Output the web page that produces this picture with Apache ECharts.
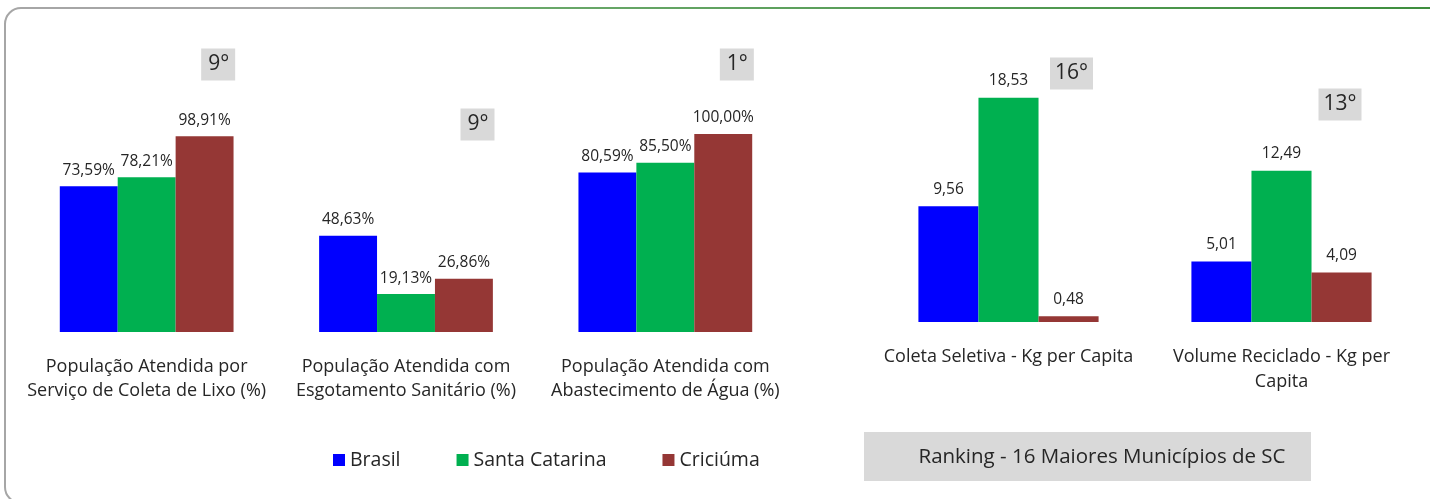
<!DOCTYPE html>
<html>
<head>
<meta charset="utf-8">
<script src="https://cdn.jsdelivr.net/npm/echarts@6/dist/echarts.min.js"></script>
<style>
html,body{margin:0;padding:0;background:#fff;}
#c{width:1430px;height:499px;}
</style>
</head>
<body>
<div id="c"></div>
<script>
const seriesNames = ['Brasil', 'Santa Catarina', 'Criciúma'];
const colors = ['#0000ff', '#00b050', '#953735'];

const catsLeft = ['População Atendida por\nServiço de Coleta de Lixo (%)', 'População Atendida com\nEsgotamento Sanitário (%)', 'População Atendida com\nAbastecimento de Água (%)'];
const brasilLeft = [73.59, 48.63, 80.59];
const scLeft = [78.21, 19.13, 85.50];
const cricLeft = [98.91, 26.86, 100.00];
const rankLeft = ['9°', '9°', '1°'];

const catsRight = ['Coleta Seletiva - Kg per Capita', 'Volume Reciclado - Kg per\nCapita'];
const brasilRight = [9.56, 5.01];
const scRight = [18.53, 12.49];
const cricRight = [0.48, 4.09];
const rankRight = ['16°', '13°'];

const rankingTitle = 'Ranking - 16 Maiores Municípios de SC';

const FONT = '"Open Sans", "Noto Sans", sans-serif';
const TXT = '#262626';

const chart = echarts.init(document.getElementById('c'), null, {renderer: 'canvas'});

function fmtPct(v){ return v.toFixed(2).replace('.', ',') + '%'; }
function fmtNum(v){ return v.toFixed(2).replace('.', ','); }

const leftData = [brasilLeft, scLeft, cricLeft];
const rightData = [brasilRight, scRight, cricRight];

const series = [];
seriesNames.forEach((n, i) => {
  series.push({
    name: n, type: 'bar', xAxisIndex: 0, yAxisIndex: 0,
    data: leftData[i], barGap: '0%', barCategoryGap: '33%',
    itemStyle: {color: colors[i]},
    label: {show: true, position: 'top', distance: 8, color: TXT, fontSize: 15.5, fontFamily: FONT,
      formatter: p => fmtPct(p.value)},
    emphasis: {disabled: true}, animation: false
  });
});
seriesNames.forEach((n, i) => {
  series.push({
    name: n, type: 'bar', xAxisIndex: 1, yAxisIndex: 1,
    data: rightData[i], barGap: '0%', barCategoryGap: '34%',
    itemStyle: {color: colors[i]},
    label: {show: true, position: 'top', distance: 9, color: TXT, fontSize: 15.5, fontFamily: FONT,
      formatter: p => fmtNum(p.value)},
    emphasis: {disabled: true}, animation: false
  });
});

const option = {
  animation: false,
  textStyle: {fontFamily: FONT},
  grid: [
    {left: 17, right: 1430 - 795, top: 134, bottom: 499 - 332},
    {left: 872, right: 1430 - 1418, top: 80, bottom: 499 - 322}
  ],
  xAxis: [
    {type: 'category', gridIndex: 0, data: catsLeft, axisLine: {show: false}, axisTick: {show: false},
      axisLabel: {interval: 0, margin: 23, color: TXT, fontSize: 18, lineHeight: 24, fontFamily: FONT}},
    {type: 'category', gridIndex: 1, data: catsRight, axisLine: {show: false}, axisTick: {show: false},
      axisLabel: {interval: 0, margin: 22, color: TXT, fontSize: 18, lineHeight: 25, fontFamily: FONT}}
  ],
  yAxis: [
    {type: 'value', gridIndex: 0, min: 0, max: 100, show: false},
    {type: 'value', gridIndex: 1, min: 0, max: 20, show: false}
  ],
  legend: {
    data: seriesNames, left: 328, top: 445, itemWidth: 12, itemHeight: 12, itemGap: 56,
    icon: 'rect', textStyle: {color: TXT, fontSize: 19.5, fontFamily: FONT}, selectedMode: false
  },
  series: series
};
chart.setOption(option);

// frame and annotations
const graphics = [
  {type: 'rect', shape: {x: 5, y: 8, width: 1500, height: 495, r: 16}, style: {fill: 'none', stroke: '#a6a6a6', lineWidth: 2}, silent: true, z: 0},
  {type: 'line', shape: {x1: 300, y1: 8, x2: 1430, y2: 8}, style: {lineWidth: 2,
    stroke: new echarts.graphic.LinearGradient(0, 0, 1, 0, [{offset: 0, color: '#a6a6a6'}, {offset: 0.2, color: '#6aa86a'}, {offset: 1, color: '#3e8e3e'}])}, silent: true, z: 1},
  {type: 'rect', shape: {x: 864, y: 432, width: 447, height: 49}, style: {fill: '#d9d9d9'}, silent: true},
  {type: 'text', x: 1102, y: 457, style: {text: rankingTitle, fill: TXT, fontSize: 20.5, fontFamily: FONT, align: 'center', verticalAlign: 'middle'}, silent: true}
];
const rankYLeft = [64.5, 124.5, 64.5];
rankLeft.forEach((t, i) => {
  const px = chart.convertToPixel({xAxisIndex: 0}, i);
  graphics.push({type: 'text', x: px + 71.5, y: rankYLeft[i], style: {text: t, fill: TXT, fontSize: 21, fontFamily: FONT,
    align: 'center', verticalAlign: 'middle', backgroundColor: '#d9d9d9', padding: [6, 6, 5, 7]}, silent: true});
});
const rankYRight = [73.5, 104.5];
const rankDx = [63, 58.5];
rankRight.forEach((t, i) => {
  const px = chart.convertToPixel({xAxisIndex: 1}, i);
  graphics.push({type: 'text', x: px + rankDx[i], y: rankYRight[i], style: {text: t, fill: TXT, fontSize: 21, fontFamily: FONT,
    align: 'center', verticalAlign: 'middle', backgroundColor: '#d9d9d9', padding: [6, 5, 5, 5]}, silent: true});
});
chart.setOption({graphic: graphics});
</script>
</body>
</html>
